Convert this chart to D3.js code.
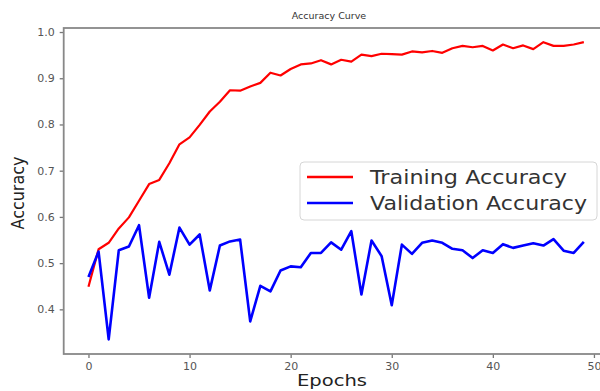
<!DOCTYPE html>
<html>
<head>
<meta charset="utf-8">
<script src="https://cdn.jsdelivr.net/npm/d3@7"></script>
<style>
  body { margin: 0; background: #fff; }
  svg { display: block; font-family: "DejaVu Sans", sans-serif; }
</style>
</head>
<body>
<div id="chart"></div>
<script>
// values
const epochs = d3.range(50);
const trainAcc = [0.449, 0.530, 0.544, 0.575, 0.599, 0.635, 0.671, 0.680, 0.716, 0.757,
  0.772, 0.799, 0.828, 0.849, 0.874, 0.873, 0.882, 0.890, 0.912, 0.906,
  0.920, 0.930, 0.932, 0.939, 0.930, 0.940, 0.936, 0.951, 0.948, 0.953,
  0.952, 0.951, 0.958, 0.956, 0.959, 0.955, 0.965, 0.970, 0.967, 0.970,
  0.960, 0.973, 0.965, 0.971, 0.963, 0.978, 0.970, 0.970, 0.973, 0.978];
const valAcc = [0.470, 0.525, 0.335, 0.528, 0.536, 0.582, 0.425, 0.546, 0.475, 0.577,
  0.540, 0.562, 0.441, 0.538, 0.547, 0.551, 0.374, 0.451, 0.439, 0.484,
  0.493, 0.491, 0.522, 0.522, 0.545, 0.529, 0.569, 0.432, 0.549, 0.515,
  0.409, 0.540, 0.520, 0.544, 0.549, 0.544, 0.531, 0.528, 0.511, 0.528,
  0.522, 0.541, 0.533, 0.538, 0.543, 0.538, 0.552, 0.527, 0.522, 0.546];
const yTicks = [0.4, 0.5, 0.6, 0.7, 0.8, 0.9, 1.0];
const xTicks = [0, 10, 20, 30, 40, 50];
const seriesNames = ["Training Accuracy", "Validation Accuracy"];
const seriesColors = ["#ff0000", "#0000ff"];

const width = 600, height = 391;
const plot = {left: 63.7, right: 608.6, top: 28, bottom: 354};

const svg = d3.select("#chart").append("svg")
  .attr("width", width)
  .attr("height", height);

const x = d3.scaleLinear().domain([-2.45, 51.45]).range([plot.left, plot.right]);
const y = d3.scaleLinear().domain([0.3034, 1.0087]).range([plot.bottom, plot.top]);

// title
svg.append("text")
  .attr("x", 329)
  .attr("y", 19)
  .attr("text-anchor", "middle")
  .attr("font-size", 9.5)
  .attr("fill", "#333")
  .text("Accuracy Curve");

// axes
const xAxis = svg.append("g")
  .attr("transform", `translate(0,${plot.bottom})`)
  .call(d3.axisBottom(x).tickValues(xTicks).tickFormat(d3.format("d")).tickSize(4).tickPadding(4));
const yAxis = svg.append("g")
  .attr("transform", `translate(${plot.left},0)`)
  .call(d3.axisLeft(y).tickValues(yTicks).tickFormat(d3.format(".1f")).tickSize(4).tickPadding(5));

[xAxis, yAxis].forEach(a => {
  a.select(".domain").remove();
  a.selectAll(".tick line").attr("stroke", "#777").attr("stroke-width", 1.3);
  a.selectAll(".tick text").attr("fill", "#555").attr("font-size", 11).attr("font-family", "DejaVu Sans, sans-serif");
});

// frame
svg.append("rect")
  .attr("x", plot.left).attr("y", plot.top)
  .attr("width", plot.right - plot.left).attr("height", plot.bottom - plot.top)
  .attr("fill", "none")
  .attr("stroke", "#888")
  .attr("stroke-width", 1.8);

// lines
const line = d3.line().x((d, i) => x(epochs[i])).y(d => y(d));
[trainAcc, valAcc].forEach((s, k) => {
  svg.append("path")
    .datum(s)
    .attr("d", line)
    .attr("fill", "none")
    .attr("stroke", seriesColors[k])
    .attr("stroke-width", k === 0 ? 2.2 : 2.6)
    .attr("stroke-linejoin", "round");
});

// axis labels
svg.append("text")
  .attr("x", 332)
  .attr("y", 386)
  .attr("text-anchor", "middle")
  .attr("font-size", 16.5)
  .attr("textLength", 70)
  .attr("lengthAdjust", "spacingAndGlyphs")
  .attr("fill", "#222")
  .text("Epochs");

svg.append("text")
  .attr("transform", `translate(24,${(plot.top + plot.bottom) / 2 + 2}) rotate(-90)`)
  .attr("text-anchor", "middle")
  .attr("font-size", 17)
  .attr("textLength", 73)
  .attr("lengthAdjust", "spacingAndGlyphs")
  .attr("fill", "#222")
  .text("Accuracy");

// legend
const legend = svg.append("g");
legend.append("rect")
  .attr("x", 300).attr("y", 162)
  .attr("width", 297).attr("height", 58)
  .attr("rx", 4)
  .attr("fill", "#fff")
  .attr("fill-opacity", 0.85)
  .attr("stroke", "#d6d6d6");

const legendWidths = [197, 217];
seriesNames.forEach((name, k) => {
  const ly = 177 + k * 26;
  legend.append("line")
    .attr("x1", 307).attr("x2", 353)
    .attr("y1", ly).attr("y2", ly)
    .attr("stroke", seriesColors[k])
    .attr("stroke-width", 2.4);
  legend.append("text")
    .attr("x", 370)
    .attr("y", ly + 7)
    .attr("font-size", 19)
    .attr("textLength", legendWidths[k])
    .attr("lengthAdjust", "spacingAndGlyphs")
    .attr("fill", "#333")
    .text(name);
});
</script>
</body>
</html>
